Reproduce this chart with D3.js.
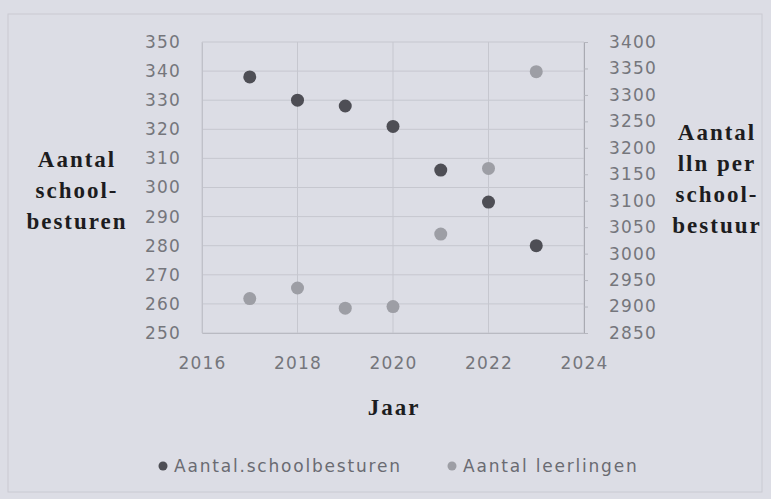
<!DOCTYPE html>
<meta charset="utf-8">
<html>
  <style>
    body { margin: 0; background: #dcdde5; }
    .tick text { font-family: "DejaVu Sans", sans-serif; font-size: 17px; fill: #75767c; letter-spacing: 1.2px; }
    .title { font-family: "Liberation Serif", "DejaVu Serif", serif; font-weight: bold; font-size: 23px; fill: #1c1c20; letter-spacing: 2px; }
    .legend { font-family: "DejaVu Sans", sans-serif; font-size: 17px; fill: #6a6b72; letter-spacing: 1.8px; }
  </style>
  <head>
    <script src="https://d3js.org/d3.v7.min.js"></script>
  </head>
  <body>
    <script>
      // data
      var years = [2017, 2018, 2019, 2020, 2021, 2022, 2023];
      var schoolbesturen = [338, 330, 328, 321, 306, 295, 280];
      var leerlingen = [2915, 2935, 2897, 2900, 3037, 3161, 3344];
      var xTicks = [2016, 2018, 2020, 2022, 2024];
      var leftTicks = [250, 260, 270, 280, 290, 300, 310, 320, 330, 340, 350];
      var rightTicks = [2850, 2900, 2950, 3000, 3050, 3100, 3150, 3200, 3250, 3300, 3350, 3400];

      var margin = {top: 42, left: 202},
          width = 382,
          height = 291;

      var svg = d3.select("body").append("svg")
          .attr("width", 771)
          .attr("height", 499);

      // faint frame of the photographed card
      svg.append("rect")
          .attr("x", 8).attr("y", 14).attr("width", 754).attr("height", 478)
          .attr("fill", "none").attr("stroke", "#c9cad2").attr("stroke-width", 1);

      var g = svg.append("g")
          .attr("transform", "translate(" + margin.left + "," + margin.top + ")");

      var x = d3.scaleLinear().domain([2016, 2024]).range([0, width]);
      var yL = d3.scaleLinear().domain([250, 350]).range([height, 0]);
      var yR = d3.scaleLinear().domain([2850, 3400]).range([height, 0]);

      // gridlines
      g.append("g").selectAll("line").data(leftTicks).join("line")
          .attr("x1", 0).attr("x2", width)
          .attr("y1", function(d) { return yL(d); })
          .attr("y2", function(d) { return yL(d); })
          .attr("stroke", "#c6c7cf").attr("stroke-width", 1);
      g.append("g").selectAll("line").data(xTicks).join("line")
          .attr("x1", function(d) { return x(d); })
          .attr("x2", function(d) { return x(d); })
          .attr("y1", 0).attr("y2", height)
          .attr("stroke", "#c6c7cf").attr("stroke-width", 1);

      // axes
      var xAxis = g.append("g").attr("transform", "translate(0," + height + ")")
          .call(d3.axisBottom(x).tickValues(xTicks).tickFormat(d3.format("d")).tickSize(0).tickPadding(24));
      xAxis.select(".domain").attr("stroke", "#b9bac2");

      var leftAxis = g.append("g")
          .call(d3.axisLeft(yL).tickValues(leftTicks).tickSize(0).tickPadding(21));
      leftAxis.select(".domain").attr("stroke", "#c0c1c9");

      var rightAxis = g.append("g").attr("transform", "translate(" + width + ",0)")
          .call(d3.axisRight(yR).tickValues(rightTicks).tickFormat(d3.format("d")).tickSize(4).tickPadding(21));
      rightAxis.select(".domain").attr("stroke", "#a9aab2");
      rightAxis.selectAll(".tick line").attr("stroke", "#b5b6be");

      // points
      g.append("g").selectAll("circle").data(years).join("circle")
          .attr("cx", function(d) { return x(d); })
          .attr("cy", function(d, i) { return yR(leerlingen[i]); })
          .attr("r", 6.5)
          .attr("fill", "#9d9ea5");
      g.append("g").selectAll("circle").data(years).join("circle")
          .attr("cx", function(d) { return x(d); })
          .attr("cy", function(d, i) { return yL(schoolbesturen[i]); })
          .attr("r", 6.5)
          .attr("fill", "#4e4e55");

      // axis titles
      var leftTitle = ["Aantal", "school-", "besturen"];
      svg.append("g").selectAll("text").data(leftTitle).join("text")
          .attr("class", "title")
          .attr("text-anchor", "middle")
          .attr("x", 77)
          .attr("y", function(d, i) { return 167 + i * 31; })
          .text(function(d) { return d; });

      var rightTitle = ["Aantal", "lln per", "school-", "bestuur"];
      svg.append("g").selectAll("text").data(rightTitle).join("text")
          .attr("class", "title")
          .attr("text-anchor", "middle")
          .attr("x", 717)
          .attr("y", function(d, i) { return 140 + i * 31; })
          .text(function(d) { return d; });

      svg.append("text")
          .attr("class", "title")
          .attr("text-anchor", "middle")
          .attr("x", 394).attr("y", 415)
          .text("Jaar");

      // legend
      var legendItems = [
        {label: "Aantal.schoolbesturen", color: "#4e4e55", x: 163},
        {label: "Aantal leerlingen", color: "#9d9ea5", x: 452}
      ];
      var lg = svg.append("g").selectAll("g").data(legendItems).join("g")
          .attr("transform", function(d) { return "translate(" + d.x + ",466)"; });
      lg.append("circle").attr("r", 4.5).attr("fill", function(d) { return d.color; });
      lg.append("text").attr("class", "legend")
          .attr("x", 11).attr("y", 6)
          .text(function(d) { return d.label; });
    </script>
  </body>
</html>
